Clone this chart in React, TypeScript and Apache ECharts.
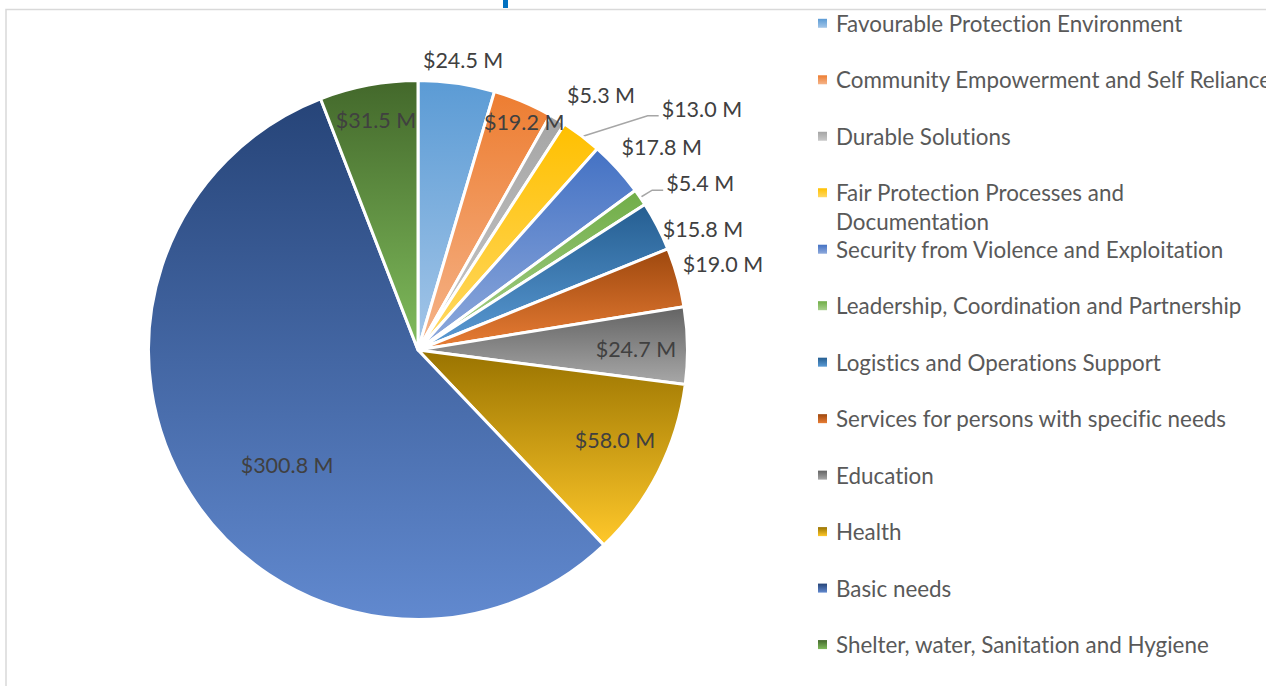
import React, { useEffect, useRef } from "react";
import * as echarts from "echarts";

const categories = [
  "Favourable Protection Environment",
  "Community Empowerment and Self Reliance",
  "Durable Solutions",
  "Fair Protection Processes and Documentation",
  "Security from Violence and Exploitation",
  "Leadership, Coordination and Partnership",
  "Logistics and Operations Support",
  "Services for persons with specific needs",
  "Education",
  "Health",
  "Basic needs",
  "Shelter, water, Sanitation and Hygiene",
];
const values = [24.5, 19.2, 5.3, 13.0, 17.8, 5.4, 15.8, 19.0, 24.7, 58.0, 300.8, 31.5];

const topColors = [
  "#5B9BD5", "#ED7D31", "#A5A5A5", "#FFC000", "#4472C4", "#70AD47",
  "#255E91", "#9E480E", "#636363", "#997300", "#264478", "#43682B",
];
const bottomColors = [
  "#A4C6E8", "#F5B48A", "#C9C9C9", "#FFD966", "#8FAADC", "#A9D18E",
  "#5B9BD5", "#E87D35", "#A8A8A8", "#FFC82A", "#6189CF", "#80BC5C",
];

// label placement: [radius factor, angle offset in degrees]
const labelPlacement = [
  [1.095, 0.6], [0.939, 2.0], [1.171, 4.5], [1.39, 12.3], [1.184, 2.5], [1.223, 3.9],
  [1.155, 4.4], [1.182, -0.1], [0.813, 0.7], [0.808, -2.3], [0.65, -8.9], [0.872, 0.25],
];
const leaderIdx = [3, 5];

const FONT = "Lato, 'Open Sans', sans-serif";
const CX = 418;
const CY = 350;
const R = 268;

export default function App() {
  const ref = useRef<HTMLDivElement>(null);
  useEffect(() => {
    document.body.style.margin = "0";
    const chart = echarts.init(ref.current!, null, { renderer: "svg" });
    const total = values.reduce((a, b) => a + b, 0);
    const cum: number[] = [];
    let s = 0;
    values.forEach((v) => {
      cum.push(s);
      s += v;
    });
    const mids = values.map((v, i) => ((cum[i] + v / 2) / total) * 360);

    const data = categories.map((name, i) => ({
      name,
      value: values[i],
      itemStyle: {
        color: new echarts.graphic.LinearGradient(0, 0, 0, 1, [
          { offset: 0, color: topColors[i] },
          { offset: 1, color: bottomColors[i] },
        ]),
      },
      labelLine: { show: leaderIdx.includes(i) },
    }));

    const legendCenter0 = 23.3;
    const legendStep = 56.48;
    const legends = categories.map((name, i) => {
      const wrapped = name === "Fair Protection Processes and Documentation";
      const lh = wrapped ? 29 : 26;
      const half = wrapped ? lh * 1.5 + 2 : lh / 2 + 2;
      return {
        data: [name],
        orient: "vertical",
        left: 818,
        top: legendCenter0 + legendStep * i - half,
        padding: 0,
        itemWidth: 9,
        itemHeight: 9,
        icon: "rect",
        selectedMode: false,
        itemStyle: { borderWidth: 0 },
        formatter: wrapped ? "\nFair Protection Processes and\nDocumentation" : "{name}",
        textStyle: {
          fontFamily: FONT,
          fontSize: 22.4,
          color: "#595959",
          lineHeight: lh,
          padding: [0, 0, 4, 4],
        },
      };
    });

    chart.setOption({
      animation: false,
      backgroundColor: "#ffffff",
      legend: legends,
      graphic: [
        {
          type: "rect",
          shape: { x: 6, y: 9.5, width: 1400, height: 800 },
          style: { fill: "none", stroke: "#D9D9D9", lineWidth: 1.5 },
          silent: true,
        },
        {
          type: "rect",
          shape: { x: 503, y: 0, width: 5, height: 8 },
          style: { fill: "#0070C0" },
          silent: true,
        },
      ],
      series: [
        {
          type: "pie",
          center: [CX, CY],
          radius: R + 1.5,
          startAngle: 90,
          clockwise: true,
          avoidLabelOverlap: false,
          data,
          itemStyle: { borderColor: "#ffffff", borderWidth: 3 },
          label: {
            show: true,
            position: "outside",
            fontFamily: FONT,
            fontSize: 21.5,
            color: "#404040",
            formatter: (p: any) => "$" + Number(p.value).toFixed(1) + " M",
          },
          labelLine: {
            show: false,
            lineStyle: { color: "#A6A6A6", width: 1.5 },
          },
          emphasis: { disabled: true },
          labelLayout: (params: any) => {
            const i = params.dataIndex;
            const [k, off] = labelPlacement[i];
            const a = ((mids[i] + off) * Math.PI) / 180;
            const x = CX + k * R * Math.sin(a);
            const y = CY - k * R * Math.cos(a);
            const out: any = { x, y, align: "center", verticalAlign: "middle" };
            if (leaderIdx.includes(i)) {
              const m = (mids[i] * Math.PI) / 180;
              const sx = CX + R * Math.sin(m);
              const sy = CY - R * Math.cos(m);
              const left = x - params.labelRect.width / 2;
              out.labelLinePoints = [
                [sx, sy],
                [left - 14, y + 7],
                [left - 3, y + 7],
              ];
            }
            return out;
          },
        },
      ],
    });
    return () => chart.dispose();
  }, []);
  return (
    <>
      <style>{"svg text { font-variant-ligatures: none !important; font-feature-settings: 'liga' 0, 'clig' 0 !important; }"}</style>
      <div
        ref={ref}
        style={{ position: "absolute", left: 0, top: 0, width: 1266, height: 686 }}
      />
    </>
  );
}
